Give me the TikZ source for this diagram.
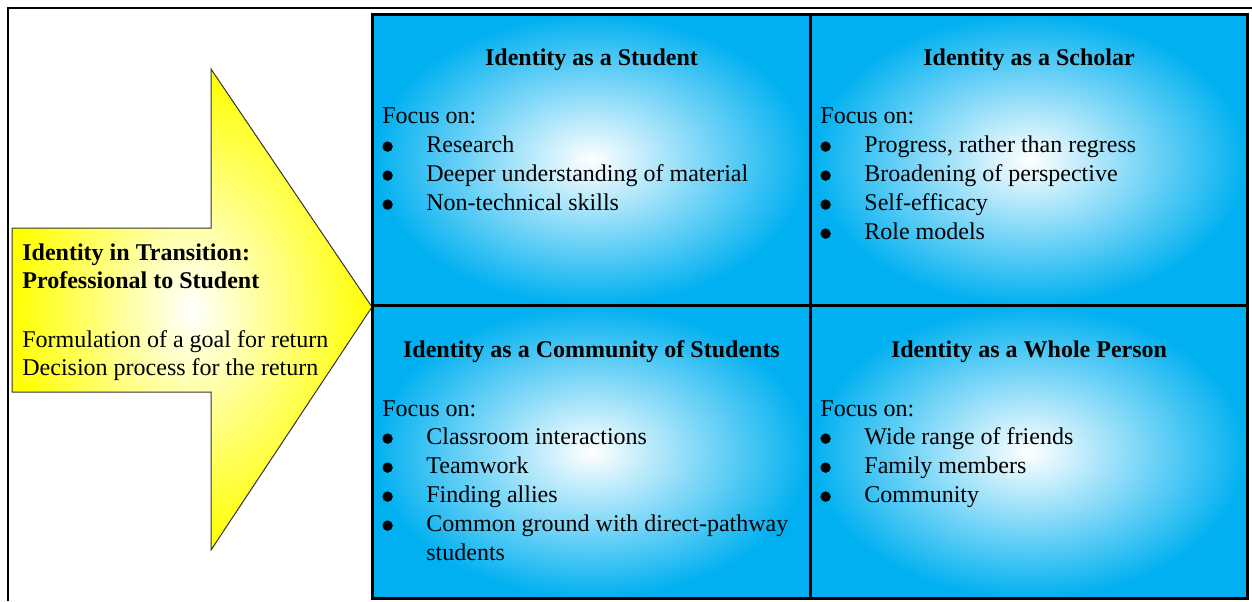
\documentclass[tikz,border=0pt]{standalone}
\usepackage{fontspec}
\setmainfont{Liberation Serif}
\definecolor{cellblue}{RGB}{0,176,240}
\definecolor{arrowyellow}{RGB}{255,255,0}
\newcommand\bul{\makebox[22pt][l]{\tikz[baseline=0pt,x=1pt,y=1pt]\fill (2.6,2.7) circle[radius=2.6];}}

\begin{document}
\begin{tikzpicture}[x=0.5pt,y=-0.5pt,
  cellhead/.style={anchor=base,inner sep=0pt,font=\fontsize{12}{14.5}\selectfont\bfseries},
  celltxt/.style={anchor=base west,inner sep=0pt,font=\fontsize{12}{14.5}\selectfont}]
\useasboundingbox (0,0) rectangle (1252,601);
\draw [line width=0.75pt] (8,601) -- (8,8) -- (1252,8);
% arrow
\shade [inner color=white, outer color=arrowyellow, draw=black!80, line width=0.5pt]
  (12,228) -- (211,228) -- (211,69) -- (372,307) -- (211,550) -- (211,392) -- (12,392) -- cycle;
\node [celltxt, font=\fontsize{12}{14.5}\selectfont\bfseries] (tr1) at (22,260) {Identity in Transition:};
\node [celltxt, font=\fontsize{12}{14.5}\selectfont\bfseries] (tr2) at (22,288) {Professional to Student};
\node [celltxt] (tr3) at (22,347) {Formulation of a goal for return};
\node [celltxt] (tr4) at (22,375) {Decision process for the return};
% cells
\shade [inner color=white, outer color=cellblue] (372.5,14) rectangle (810.5,305.5);
\shade [inner color=white, outer color=cellblue] (810.5,14) rectangle (1247.5,305.5);
\shade [inner color=white, outer color=cellblue] (372.5,305.5) rectangle (810.5,598.5);
\shade [inner color=white, outer color=cellblue] (810.5,305.5) rectangle (1247.5,598.5);
\draw [line width=1.5pt] (372.5,14) rectangle (1247.5,598.5);
\draw [line width=1.5pt] (810.5,14) -- (810.5,598.5);
\draw [line width=1.5pt] (372.5,305.5) -- (1247.5,305.5);
% student
\node [cellhead] (stu) at (591.5,65) {Identity as a Student};
\node [celltxt] (stu0) at (382,123) {Focus on:};
\node [celltxt] (stu1) at (382,152) {\bul Research};
\node [celltxt] (stu2) at (382,181) {\bul Deeper understanding of material};
\node [celltxt] (stu3) at (382,210) {\bul Non-technical skills};
% scholar
\node [cellhead] (sch) at (1029,65) {Identity as a Scholar};
\node [celltxt] (sch0) at (820,123) {Focus on:};
\node [celltxt] (sch1) at (820,152) {\bul Progress, rather than regress};
\node [celltxt] (sch2) at (820,181) {\bul Broadening of perspective};
\node [celltxt] (sch3) at (820,210) {\bul Self-efficacy};
\node [celltxt] (sch4) at (820,239) {\bul Role models};
% community
\node [cellhead] (com) at (591.5,357) {Identity as a Community of Students};
\node [celltxt] (com0) at (382,416) {Focus on:};
\node [celltxt] (com1) at (382,444) {\bul Classroom interactions};
\node [celltxt] (com2) at (382,473) {\bul Teamwork};
\node [celltxt] (com3) at (382,502) {\bul Finding allies};
\node [celltxt] (com4) at (382,531) {\bul Common ground with direct-pathway};
\node [celltxt] (com5) at (426,560) {students};
% whole person
\node [cellhead] (who) at (1029,357) {Identity as a Whole Person};
\node [celltxt] (who0) at (820,416) {Focus on:};
\node [celltxt] (who1) at (820,444) {\bul Wide range of friends};
\node [celltxt] (who2) at (820,473) {\bul Family members};
\node [celltxt] (who3) at (820,502) {\bul Community};
\end{tikzpicture}
\end{document}
